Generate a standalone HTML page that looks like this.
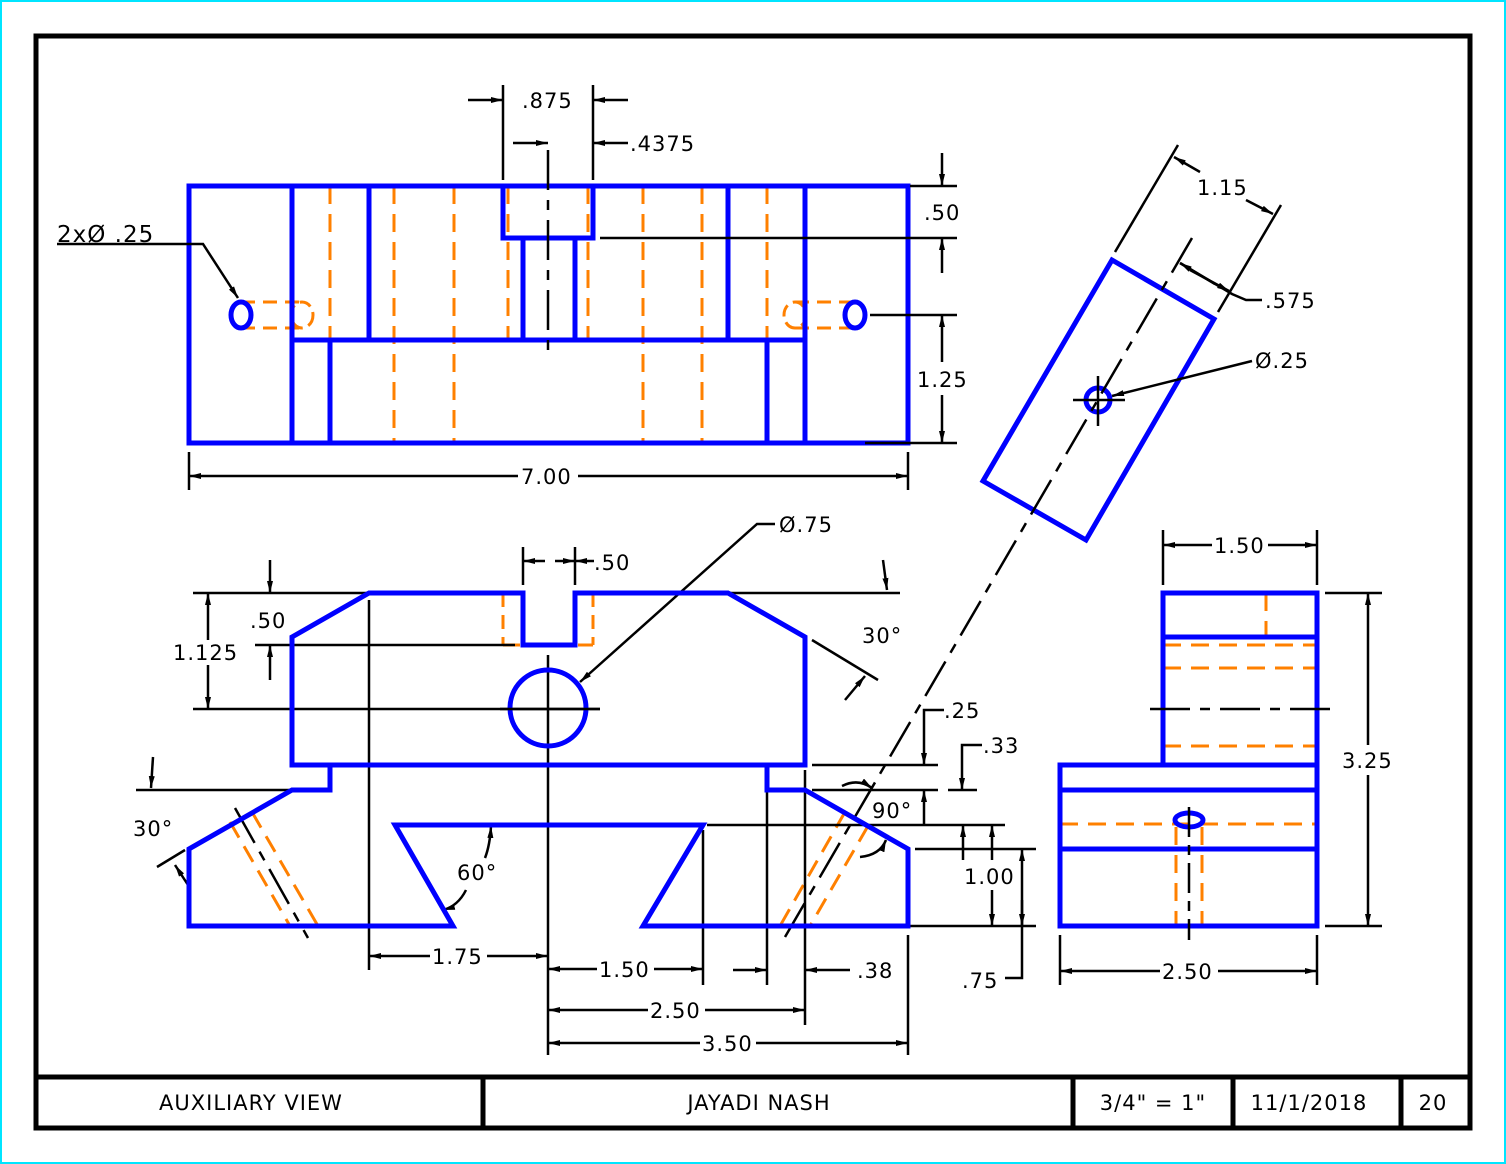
<!DOCTYPE html>
<html><head><meta charset="utf-8"><style>
html,body{margin:0;padding:0;background:#fff}
svg{display:block}
text{font-family:"DejaVu Sans","Liberation Sans",sans-serif;font-size:21px;fill:#000;letter-spacing:1px}
.b{stroke:#0000ff;stroke-width:5;fill:none;stroke-linejoin:miter;stroke-linecap:square}
.o{stroke:#ff8000;stroke-width:3;fill:none;stroke-dasharray:18 10}
.k{stroke:#000;stroke-width:2.5;fill:none}
.c{stroke:#000;stroke-width:2.5;fill:none;stroke-dasharray:40 10 10 10}
.t{font-size:22px;letter-spacing:2px}
</style></head><body>
<svg width="1506" height="1164" viewBox="0 0 1506 1164" xmlns="http://www.w3.org/2000/svg">
<defs>
<marker id="a" viewBox="0 0 12 6" refX="12" refY="3" markerWidth="12" markerHeight="6" orient="auto" markerUnits="userSpaceOnUse"><path d="M0,0L12,3L0,6z" fill="#000"/></marker>
</defs>
<rect x="1" y="1" width="1504" height="1162" fill="none" stroke="#00e5ff" stroke-width="2"/>
<rect x="36" y="36" width="1434" height="1092" fill="none" stroke="#000" stroke-width="5"/>
<line x1="36" y1="1077" x2="1470" y2="1077" stroke="#000" stroke-width="5"/>
<g stroke="#000" stroke-width="5"><line x1="483" y1="1077" x2="483" y2="1128"/><line x1="1073" y1="1077" x2="1073" y2="1128"/><line x1="1233" y1="1077" x2="1233" y2="1128"/><line x1="1401" y1="1077" x2="1401" y2="1128"/></g>
<g class="t" text-anchor="middle"><text x="251" y="1110">AUXILIARY VIEW</text><text x="759" y="1110">JAYADI NASH</text><text x="1153" y="1110">3/4" = 1"</text><text x="1309" y="1110">11/1/2018</text><text x="1433" y="1110">20</text></g>

<!-- TOP VIEW -->
<g class="o">
<line x1="330" y1="186" x2="330" y2="340"/><line x1="394" y1="186" x2="394" y2="443"/><line x1="454" y1="186" x2="454" y2="443"/>
<line x1="643" y1="186" x2="643" y2="443"/><line x1="702" y1="186" x2="702" y2="443"/><line x1="767" y1="186" x2="767" y2="340"/>
<line x1="508" y1="186" x2="508" y2="340"/><line x1="588" y1="186" x2="588" y2="340"/>
<line x1="241" y1="302" x2="300" y2="302" stroke-dasharray="14 8"/><line x1="241" y1="328" x2="300" y2="328" stroke-dasharray="14 8"/>
<ellipse cx="302" cy="315" rx="11" ry="13" stroke-dasharray="12 6"/>
<line x1="795" y1="302" x2="855" y2="302" stroke-dasharray="14 8"/><line x1="795" y1="328" x2="855" y2="328" stroke-dasharray="14 8"/>
<ellipse cx="795" cy="315" rx="11" ry="13" stroke-dasharray="12 6"/>
</g>
<g class="b">
<rect x="189" y="186" width="719" height="257"/>
<line x1="292" y1="186" x2="292" y2="443"/><line x1="805" y1="186" x2="805" y2="443"/>
<line x1="369" y1="186" x2="369" y2="340"/><line x1="728" y1="186" x2="728" y2="340"/>
<line x1="292" y1="340" x2="805" y2="340"/>
<line x1="330" y1="340" x2="330" y2="443"/><line x1="767" y1="340" x2="767" y2="443"/>
<polyline points="503,186 503,238 593,238 593,186"/>
<line x1="523" y1="238" x2="523" y2="340"/><line x1="575" y1="238" x2="575" y2="340"/>
<ellipse cx="241" cy="315" rx="10" ry="13"/><ellipse cx="855" cy="315" rx="10" ry="13"/>
</g>
<line class="c" x1="548" y1="150" x2="548" y2="353"/>
<g class="k">
<line x1="503" y1="85" x2="503" y2="180"/><line x1="593" y1="85" x2="593" y2="180"/>
<line x1="468" y1="100" x2="503" y2="100" marker-end="url(#a)"/><line x1="628" y1="100" x2="593" y2="100" marker-end="url(#a)"/>
<line x1="513" y1="143" x2="548" y2="143" marker-end="url(#a)"/><line x1="628" y1="143" x2="593" y2="143" marker-end="url(#a)"/>
<line x1="910" y1="186" x2="957" y2="186"/><line x1="600" y1="238" x2="957" y2="238"/><line x1="870" y1="315" x2="957" y2="315"/><line x1="865" y1="443" x2="957" y2="443"/>
<line x1="942" y1="153" x2="942" y2="186" marker-end="url(#a)"/><line x1="942" y1="273" x2="942" y2="238" marker-end="url(#a)"/>
<line x1="942" y1="362" x2="942" y2="315" marker-end="url(#a)"/><line x1="942" y1="395" x2="942" y2="443" marker-end="url(#a)"/>
<line x1="189" y1="452" x2="189" y2="490"/><line x1="908" y1="452" x2="908" y2="490"/>
<line x1="518" y1="476" x2="189" y2="476" marker-end="url(#a)"/><line x1="578" y1="476" x2="908" y2="476" marker-end="url(#a)"/>
<polyline points="57,244 203,244 238,298" marker-end="url(#a)"/>
</g>
<text x="522" y="108">.875</text><text x="630" y="151">.4375</text>
<text x="924" y="220">.50</text><text x="917" y="387">1.25</text><text x="521" y="484">7.00</text>
<text x="57" y="242" style="font-size:23px">2xØ .25</text>

<!-- AUX VIEW -->
<polygon class="b" points="1112,260 1214,319 1086,540 983,481"/>
<circle cx="1098" cy="400" r="12" class="b"/>
<line class="c" x1="1192" y1="238" x2="785" y2="937"/>
<g class="k">
<line x1="1073" y1="400" x2="1125" y2="400"/><line x1="1098" y1="376" x2="1098" y2="426"/>
<line x1="1115" y1="252" x2="1178" y2="145"/><line x1="1218" y1="312" x2="1281" y2="205"/>
<line x1="1200" y1="172" x2="1174" y2="157" marker-end="url(#a)"/><line x1="1246" y1="200" x2="1273" y2="214" marker-end="url(#a)"/>
<line x1="1215" y1="284" x2="1180" y2="263" marker-end="url(#a)"/>
<polyline points="1180,263 1232,294 1246,300 1262,300"/>
<line x1="1190" y1="270" x2="1229" y2="291" marker-end="url(#a)"/>
<line x1="1252" y1="361" x2="1112" y2="396" marker-end="url(#a)"/>
</g>
<text x="1197" y="195">1.15</text><text x="1265" y="308">.575</text><text x="1255" y="368">Ø.25</text>

<!-- FRONT VIEW -->
<g class="o">
<line x1="503" y1="593" x2="503" y2="645" stroke-dasharray="14 8"/><line x1="593" y1="593" x2="593" y2="645" stroke-dasharray="14 8"/>
<line x1="503" y1="645" x2="520" y2="645"/><line x1="578" y1="645" x2="593" y2="645"/>
<line x1="230" y1="822" x2="290" y2="926"/><line x1="252" y1="812" x2="318" y2="926"/>
<line x1="845" y1="812" x2="780" y2="926"/><line x1="868" y1="826" x2="810" y2="926"/>
</g>
<g class="k">
<line x1="193" y1="593" x2="370" y2="593"/><line x1="730" y1="593" x2="900" y2="593"/>
<line x1="255" y1="645" x2="515" y2="645"/><line x1="193" y1="709" x2="600" y2="709"/>
<line x1="208" y1="640" x2="208" y2="593" marker-end="url(#a)"/><line x1="208" y1="665" x2="208" y2="709" marker-end="url(#a)"/>
<line x1="270" y1="560" x2="270" y2="593" marker-end="url(#a)"/><line x1="270" y1="680" x2="270" y2="645" marker-end="url(#a)"/>
<line x1="523" y1="547" x2="523" y2="585"/><line x1="575" y1="547" x2="575" y2="585"/>
<line x1="545" y1="561" x2="523" y2="561" marker-end="url(#a)"/><line x1="555" y1="561" x2="575" y2="561" marker-end="url(#a)"/><line x1="594" y1="561" x2="575" y2="561" marker-end="url(#a)"/>
<polyline points="775,524 757,524 580,682" marker-end="url(#a)"/>
<line x1="883" y1="560" x2="887" y2="590" marker-end="url(#a)"/>
<line x1="812" y1="640" x2="878" y2="680"/>
<line x1="845" y1="700" x2="865" y2="676" marker-end="url(#a)"/>
<line x1="136" y1="790" x2="290" y2="790"/>
<line x1="153" y1="757" x2="151" y2="788" marker-end="url(#a)"/>
<line x1="157" y1="867" x2="185" y2="850"/>
<line x1="190" y1="888" x2="175" y2="865" marker-end="url(#a)"/>
<line class="c" x1="235" y1="808" x2="308" y2="938"/>
<path d="M485,858 Q490,845 491,826" marker-end="url(#a)"/>
<path d="M466,890 Q458,906 443,910" marker-end="url(#a)"/>
<line x1="369" y1="600" x2="369" y2="970"/><line x1="548" y1="655" x2="548" y2="1055"/>
<line x1="703" y1="830" x2="703" y2="985"/><line x1="767" y1="770" x2="767" y2="985"/>
<line x1="805" y1="770" x2="805" y2="1025"/><line x1="908" y1="935" x2="908" y2="1055"/>
<line x1="430" y1="956" x2="369" y2="956" marker-end="url(#a)"/><line x1="487" y1="956" x2="548" y2="956" marker-end="url(#a)"/>
<line x1="597" y1="969" x2="548" y2="969" marker-end="url(#a)"/><line x1="654" y1="969" x2="703" y2="969" marker-end="url(#a)"/>
<line x1="733" y1="970" x2="767" y2="970" marker-end="url(#a)"/>
<line x1="850" y1="970" x2="805" y2="970" marker-end="url(#a)"/>
<line x1="648" y1="1010" x2="548" y2="1010" marker-end="url(#a)"/><line x1="705" y1="1010" x2="805" y2="1010" marker-end="url(#a)"/>
<line x1="700" y1="1043" x2="548" y2="1043" marker-end="url(#a)"/><line x1="756" y1="1043" x2="908" y2="1043" marker-end="url(#a)"/>
<line x1="812" y1="765" x2="938" y2="765"/><line x1="812" y1="790" x2="938" y2="790"/><line x1="948" y1="790" x2="977" y2="790"/>
<line x1="707" y1="825" x2="1005" y2="825"/><line x1="915" y1="849" x2="1036" y2="849"/><line x1="908" y1="926" x2="1036" y2="926"/>
<polyline points="944,710 924,710 924,765" marker-end="url(#a)"/>
<line x1="924" y1="825" x2="924" y2="790" marker-end="url(#a)"/>
<polyline points="982,745 962,745 962,790" marker-end="url(#a)"/>
<line x1="963" y1="860" x2="963" y2="825" marker-end="url(#a)"/>
<line x1="992" y1="890" x2="992" y2="926" marker-end="url(#a)"/>
<line x1="992" y1="860" x2="992" y2="825" marker-end="url(#a)"/>
<polyline points="1005,978 1022,978 1022,849" marker-end="url(#a)"/>
<line x1="1022" y1="900" x2="1022" y2="926" marker-end="url(#a)"/>
<path d="M842,786 Q858,778 872,788" marker-end="url(#a)"/>
<path d="M860,857 Q880,855 886,840" marker-end="url(#a)"/>
</g>
<g class="b">
<polygon points="292,637 369,593 523,593 523,645 575,645 575,593 728,593 805,637 805,765 292,765"/>
<circle cx="548" cy="708" r="38"/>
<polyline points="330,765 330,790 292,790 189,849 189,926 453,926 395,825 703,825 643,926 908,926 908,849 805,790 767,790 767,765"/>
</g>
<line class="k" x1="500" y1="709" x2="600" y2="709"/>
<text x="779" y="532">Ø.75</text><text x="594" y="570">.50</text>
<text x="250" y="628">.50</text><text x="173" y="660">1.125</text>
<text x="862" y="643">30°</text><text x="133" y="836">30°</text><text x="457" y="880">60°</text>
<text x="944" y="718">.25</text><text x="983" y="753">.33</text><text x="872" y="818">90°</text>
<text x="964" y="884">1.00</text><text x="962" y="988">.75</text>
<text x="432" y="964">1.75</text><text x="599" y="977">1.50</text><text x="857" y="978">.38</text>
<text x="650" y="1018">2.50</text><text x="702" y="1051">3.50</text>

<!-- RIGHT VIEW -->
<g class="o">
<line x1="1163" y1="645" x2="1317" y2="645"/><line x1="1163" y1="668" x2="1317" y2="668"/><line x1="1163" y1="746" x2="1317" y2="746"/>
<line x1="1266" y1="593" x2="1266" y2="645"/>
<line x1="1060" y1="824" x2="1317" y2="824"/>
<line x1="1176" y1="827" x2="1176" y2="926"/><line x1="1202" y1="827" x2="1202" y2="926"/>
</g>
<g class="b">
<rect x="1163" y="593" width="154" height="172"/>
<line x1="1163" y1="637" x2="1317" y2="637"/>
<rect x="1060" y="765" width="257" height="161"/>
<line x1="1060" y1="790" x2="1317" y2="790"/><line x1="1060" y1="849" x2="1317" y2="849"/>
<ellipse cx="1189" cy="820" rx="14" ry="7"/>
</g>
<line class="c" x1="1150" y1="709" x2="1330" y2="709"/>
<line class="c" x1="1189" y1="807" x2="1189" y2="940" style="stroke-dasharray:30 8 10 8"/>
<g class="k">
<line x1="1163" y1="530" x2="1163" y2="585"/><line x1="1317" y1="530" x2="1317" y2="585"/>
<line x1="1212" y1="545" x2="1163" y2="545" marker-end="url(#a)"/><line x1="1268" y1="545" x2="1317" y2="545" marker-end="url(#a)"/>
<line x1="1325" y1="593" x2="1382" y2="593"/><line x1="1325" y1="926" x2="1382" y2="926"/>
<line x1="1368" y1="745" x2="1368" y2="593" marker-end="url(#a)"/><line x1="1368" y1="775" x2="1368" y2="926" marker-end="url(#a)"/>
<line x1="1060" y1="935" x2="1060" y2="985"/><line x1="1317" y1="935" x2="1317" y2="985"/>
<line x1="1160" y1="971" x2="1060" y2="971" marker-end="url(#a)"/><line x1="1218" y1="971" x2="1317" y2="971" marker-end="url(#a)"/>
</g>
<text x="1214" y="553">1.50</text><text x="1342" y="768">3.25</text><text x="1162" y="979">2.50</text>
</svg>
</body></html>
